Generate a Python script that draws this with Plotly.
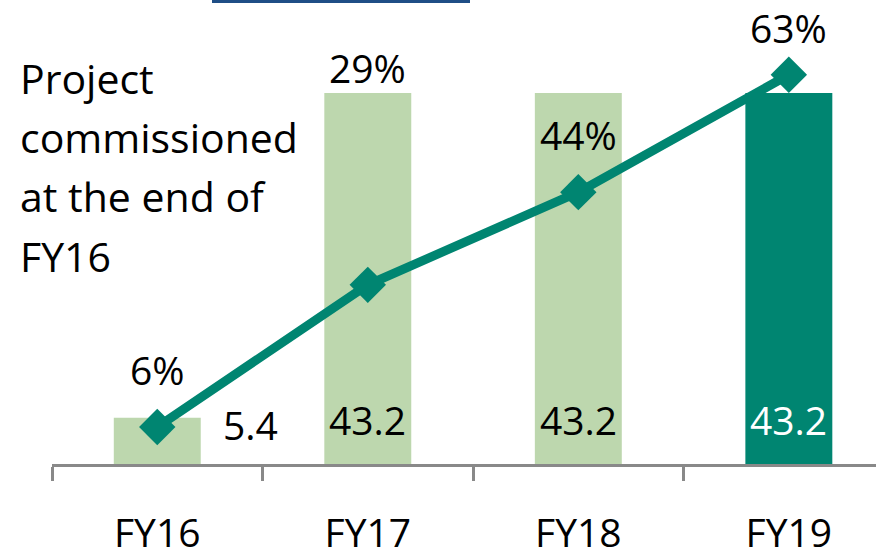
import plotly.graph_objects as go

categories = ["FY16", "FY17", "FY18", "FY19"]
capacity = [5.4, 43.2, 43.2, 43.2]
commissioned_pct = [6, 29, 44, 63]
bar_label_text = ["5.4", "43.2", "43.2", "43.2"]
pct_label_text = ["6%", "29%", "44%", "63%"]
note_lines = ["Project", "commissioned", "at the end of", "FY16"]

LIGHT = "#BDD7AE"
TEAL = "#008571"
FONT = "'Open Sans', sans-serif"
FS = 39

bar_colors = [LIGHT, LIGHT, LIGHT, TEAL]

fig = go.Figure()
fig.add_trace(go.Bar(x=categories, y=capacity, marker=dict(color=bar_colors, line=dict(width=0)),
                     width=0.413, yaxis="y", hoverinfo="skip"))
fig.add_trace(go.Scatter(x=categories, y=commissioned_pct, mode="lines+markers", yaxis="y2",
                         line=dict(color=TEAL, width=9),
                         marker=dict(symbol="diamond", size=28, color=TEAL), hoverinfo="skip"))

annotations = []
bar_xshift = [93, 0, 0, 0]
bar_yshift = [40, 45, 45, 45]
bar_font_col = ["black", "black", "black", "white"]
for i, c in enumerate(categories):
    annotations.append(dict(x=c, y=0, xref="x", yref="y", text=bar_label_text[i], showarrow=False,
                            xshift=bar_xshift[i], yshift=bar_yshift[i], yanchor="middle",
                            font=dict(family=FONT, size=FS, color=bar_font_col[i])))
pct_yshift = [57, 217, 58, 47]
for i, c in enumerate(categories):
    annotations.append(dict(x=c, y=commissioned_pct[i], xref="x", yref="y2", text=pct_label_text[i],
                            showarrow=False, yshift=pct_yshift[i], yanchor="middle",
                            font=dict(family=FONT, size=FS, color="black")))

PLOT_TOP = 0
PLOT_H = 464
PLOT_L = 52
PLOT_W = 824
line_centers_px = [78, 137, 196, 256]
for t, py in zip(note_lines, line_centers_px):
    annotations.append(dict(x=(18 - PLOT_L) / PLOT_W, y=(PLOT_TOP + PLOT_H - py) / PLOT_H,
                            xref="paper", yref="paper", text=t, showarrow=False,
                            xanchor="left", yanchor="middle",
                            font=dict(family=FONT, size=41, color="black")))

fig.update_layout(
    width=876, height=556,
    margin=dict(l=PLOT_L, r=0, t=0, b=556 - PLOT_H, pad=0, autoexpand=False),
    paper_bgcolor="white", plot_bgcolor="white",
    showlegend=False,
    annotations=annotations,
    xaxis=dict(type="category", range=[-0.5, 3.414], showgrid=False, zeroline=False,
               automargin=False,
               showline=True, linecolor="#898989", linewidth=3,
               ticks="outside", tickson="boundaries", ticklen=14, tickwidth=3, tickcolor="#898989",
               tickfont=dict(family=FONT, size=FS, color="black"), ticklabelstandoff=33),
    yaxis=dict(range=[0, 54.03], visible=False, showgrid=False, zeroline=False),
    yaxis2=dict(range=[0, 75.1], overlaying="y", side="right", visible=False,
                showgrid=False, zeroline=False),
    shapes=[dict(type="rect", xref="paper", yref="paper",
                 x0=(212 - PLOT_L) / PLOT_W, x1=(470 - PLOT_L) / PLOT_W,
                 y0=(PLOT_H - 3) / PLOT_H, y1=1.0,
                 fillcolor="#1F4E86", line=dict(width=0))],
)

fig.write_html("out.html", config={"displayModeBar": False},
               post_script="document.body.style.margin='0';")
